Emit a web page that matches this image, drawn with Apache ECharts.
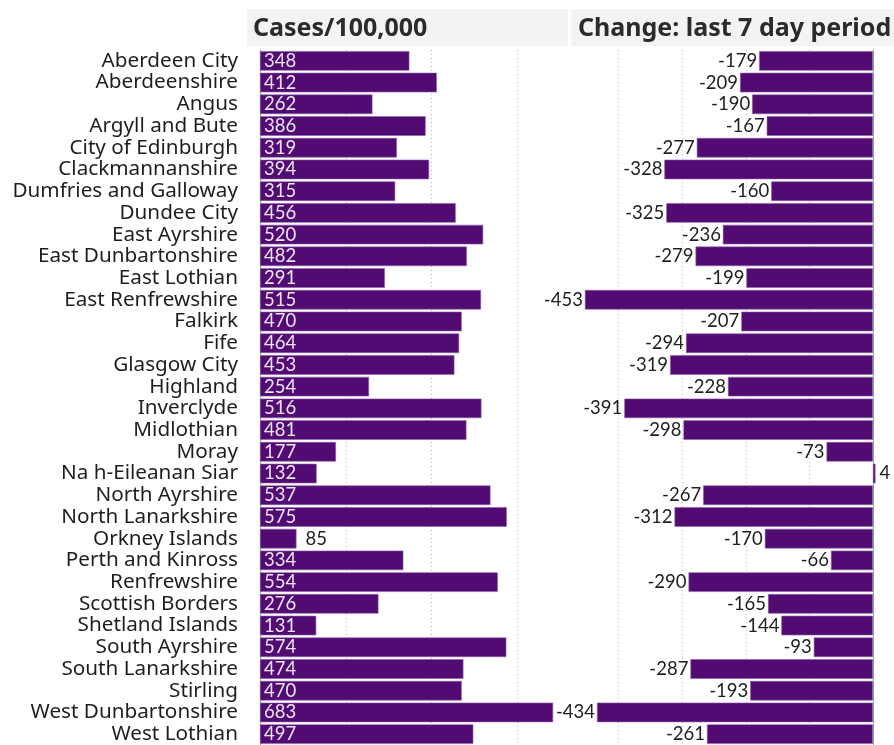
<!DOCTYPE html>
<html>
<head>
<meta charset="utf-8">
<title>Cases per 100,000 by council area</title>
<script src="https://cdn.jsdelivr.net/npm/echarts@6/dist/echarts.min.js"></script>
<style>
  html, body { margin: 0; padding: 0; background: #fff; }
  #chart { width: 894px; height: 745px; }
</style>
</head>
<body>
<div id="chart"></div>
<script>
// council areas, top to bottom
var areas = [
    'Aberdeen City', 'Aberdeenshire', 'Angus', 'Argyll and Bute', 'City of Edinburgh',
    'Clackmannanshire', 'Dumfries and Galloway', 'Dundee City', 'East Ayrshire',
    'East Dunbartonshire', 'East Lothian', 'East Renfrewshire', 'Falkirk', 'Fife',
    'Glasgow City', 'Highland', 'Inverclyde', 'Midlothian', 'Moray', 'Na h-Eileanan Siar',
    'North Ayrshire', 'North Lanarkshire', 'Orkney Islands', 'Perth and Kinross',
    'Renfrewshire', 'Scottish Borders', 'Shetland Islands', 'South Ayrshire',
    'South Lanarkshire', 'Stirling', 'West Dunbartonshire', 'West Lothian'
];
// cases per 100,000
var cases = [
    348, 412, 262, 386, 319, 394, 315, 456, 520, 482, 291, 515, 470, 464, 453, 254,
    516, 481, 177, 132, 537, 575, 85, 334, 554, 276, 131, 574, 474, 470, 683, 497
];
// change over last 7 day period
var change = [
    -179, -209, -190, -167, -277, -328, -160, -325, -236, -279, -199, -453, -207, -294,
    -319, -228, -391, -298, -73, 4, -267, -312, -170, -66, -290, -165, -144, -93,
    -287, -193, -434, -261
];
var headers = ['Cases/100,000', 'Change: last 7 day period'];

var purple = '#510b73';
var numFont = 'Lato';
var nameFont = 'Noto Sans';

var chart = echarts.init(document.getElementById('chart'));

// small bars get their number outside, in black
var caseData = cases.map(function (v) {
    var small = v < 100;
    return {
        value: v,
        label: small
            ? { position: 'right', distance: 9, color: '#222' }
            : { position: 'insideLeft', distance: 4, color: '#ece4f2' }
    };
});
var changeData = change.map(function (v) {
    return {
        value: v,
        label: { position: v < 0 ? 'left' : 'right', distance: v < 0 ? 2 : 4 }
    };
});

var dotted = { show: true, showMinLine: false, showMaxLine: false, lineStyle: { color: '#b5b5b5', type: [1, 3], width: 1 } };

var option = {
    animation: false,
    textStyle: { fontFamily: numFont },
    graphic: [
        { type: 'rect', left: 247, top: 9, shape: { width: 321, height: 37 }, style: { fill: '#f3f3f3' } },
        { type: 'rect', left: 571, top: 9, shape: { width: 323, height: 37 }, style: { fill: '#f3f3f3' } },
        { type: 'text', x: 253, y: 29, style: { text: headers[0], verticalAlign: 'middle', font: 'bold 25px "' + nameFont + '"', fill: '#2b2b2b' } },
        { type: 'text', x: 578, y: 29, style: { text: headers[1], verticalAlign: 'middle', font: 'bold 25px "' + nameFont + '"', fill: '#2b2b2b' } }
    ],
    grid: [
        { left: 260, top: 50, width: 309, height: 699 },
        { left: 555, top: 50, width: 337, height: 699 }
    ],
    xAxis: [
        {
            gridIndex: 0, type: 'value', min: 0, max: 720, interval: 200,
            axisLabel: { show: false }, axisTick: { show: false }, axisLine: { show: false },
            splitLine: dotted
        },
        {
            gridIndex: 1, type: 'value', min: -500, max: 30, interval: 100,
            axisLabel: { show: false }, axisTick: { show: false }, axisLine: { show: false },
            splitLine: dotted
        }
    ],
    yAxis: [
        {
            gridIndex: 0, type: 'category', data: areas, inverse: true,
            axisTick: { show: false },
            axisLine: { show: true, lineStyle: { color: '#a0a0a0', width: 1 } },
            axisLabel: { interval: 0, margin: 22, fontSize: 20.7, color: '#1e1e1e', fontFamily: nameFont }
        },
        {
            gridIndex: 1, type: 'category', data: areas, inverse: true,
            axisTick: { show: false },
            axisLine: { show: true, lineStyle: { color: '#a0a0a0', width: 1 } },
            axisLabel: { show: false }
        }
    ],
    series: [
        {
            type: 'bar', xAxisIndex: 0, yAxisIndex: 0, data: caseData,
            barCategoryGap: '10%',
            itemStyle: { color: purple, borderColor: '#8d62a8', borderWidth: 0.6 },
            label: { show: true, fontSize: 18.5, fontFamily: numFont }
        },
        {
            type: 'bar', xAxisIndex: 1, yAxisIndex: 1, data: changeData,
            barCategoryGap: '10%',
            itemStyle: { color: purple, borderColor: '#8d62a8', borderWidth: 0.6 },
            label: { show: true, fontSize: 18.5, fontFamily: numFont, color: '#1e1e1e' }
        }
    ]
};

chart.setOption(option);
</script>
</body>
</html>
